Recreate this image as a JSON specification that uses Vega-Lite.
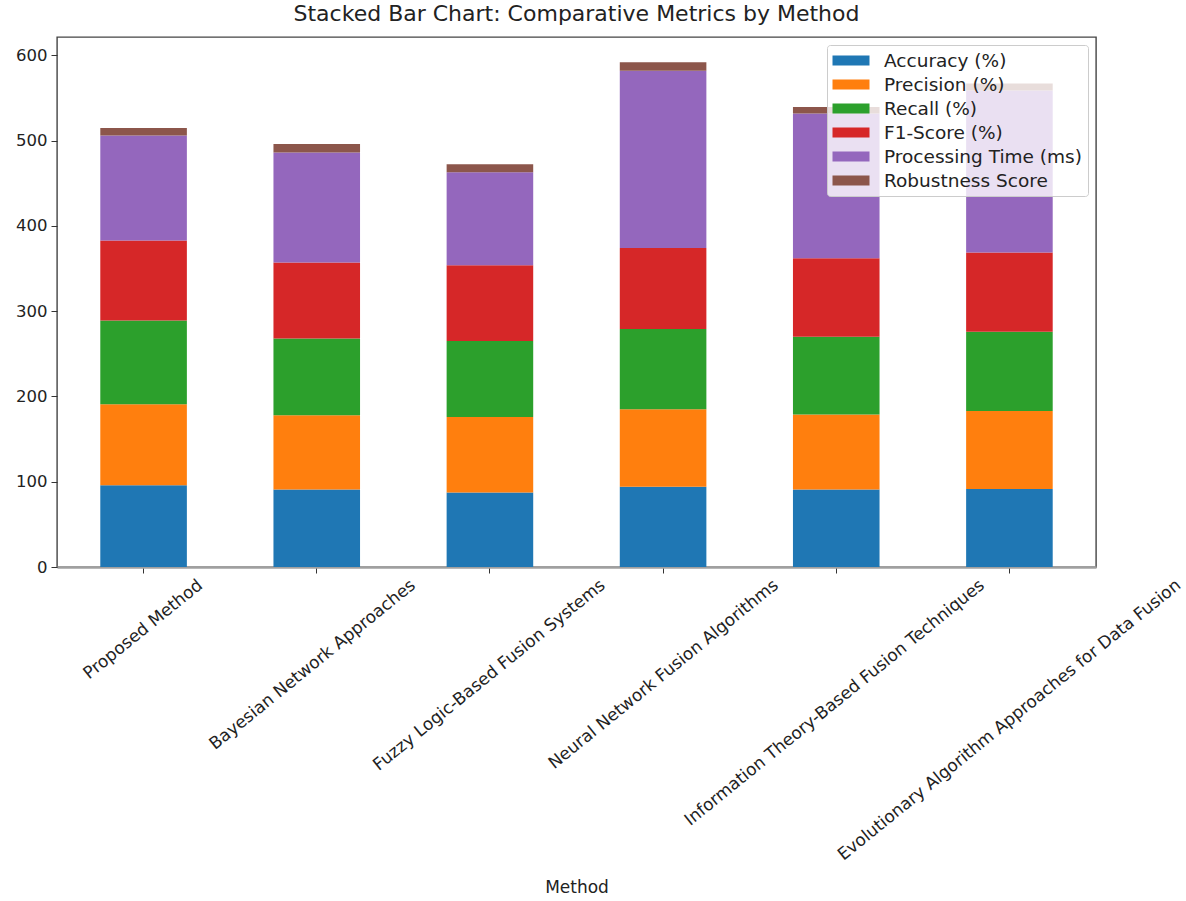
{
  "$schema": "https://vega.github.io/schema/vega-lite/v6.json",
  "autosize": {"type": "none"},
  "width": 1039,
  "height": 530,
  "padding": {"left": 57, "top": 37, "right": 90, "bottom": 334},
  "background": "white",
  "title": {
    "text": "Stacked Bar Chart: Comparative Metrics by Method",
    "fontSize": 22,
    "fontWeight": "normal",
    "font": "DejaVu Sans",
    "color": "#222222",
    "anchor": "middle",
    "offset": 11
  },
  "config": {
    "font": "DejaVu Sans",
    "view": {"stroke": "#444444", "strokeWidth": 1.4},
    "axis": {"grid": false}
  },
  "data": {
    "values": [
      {"method": "Proposed Method", "metric": "Accuracy (%)", "value": 96},
      {"method": "Proposed Method", "metric": "Precision (%)", "value": 95},
      {"method": "Proposed Method", "metric": "Recall (%)", "value": 98},
      {"method": "Proposed Method", "metric": "F1-Score (%)", "value": 94},
      {"method": "Proposed Method", "metric": "Processing Time (ms)", "value": 123},
      {"method": "Proposed Method", "metric": "Robustness Score", "value": 9},
      {"method": "Bayesian Network Approaches", "metric": "Accuracy (%)", "value": 91},
      {"method": "Bayesian Network Approaches", "metric": "Precision (%)", "value": 87},
      {"method": "Bayesian Network Approaches", "metric": "Recall (%)", "value": 90},
      {"method": "Bayesian Network Approaches", "metric": "F1-Score (%)", "value": 89},
      {"method": "Bayesian Network Approaches", "metric": "Processing Time (ms)", "value": 129},
      {"method": "Bayesian Network Approaches", "metric": "Robustness Score", "value": 10},
      {"method": "Fuzzy Logic-Based Fusion Systems", "metric": "Accuracy (%)", "value": 87.5},
      {"method": "Fuzzy Logic-Based Fusion Systems", "metric": "Precision (%)", "value": 88.5},
      {"method": "Fuzzy Logic-Based Fusion Systems", "metric": "Recall (%)", "value": 89},
      {"method": "Fuzzy Logic-Based Fusion Systems", "metric": "F1-Score (%)", "value": 89},
      {"method": "Fuzzy Logic-Based Fusion Systems", "metric": "Processing Time (ms)", "value": 109},
      {"method": "Fuzzy Logic-Based Fusion Systems", "metric": "Robustness Score", "value": 9.5},
      {"method": "Neural Network Fusion Algorithms", "metric": "Accuracy (%)", "value": 94},
      {"method": "Neural Network Fusion Algorithms", "metric": "Precision (%)", "value": 91},
      {"method": "Neural Network Fusion Algorithms", "metric": "Recall (%)", "value": 94},
      {"method": "Neural Network Fusion Algorithms", "metric": "F1-Score (%)", "value": 95},
      {"method": "Neural Network Fusion Algorithms", "metric": "Processing Time (ms)", "value": 208},
      {"method": "Neural Network Fusion Algorithms", "metric": "Robustness Score", "value": 10},
      {"method": "Information Theory-Based Fusion Techniques", "metric": "Accuracy (%)", "value": 91},
      {"method": "Information Theory-Based Fusion Techniques", "metric": "Precision (%)", "value": 88},
      {"method": "Information Theory-Based Fusion Techniques", "metric": "Recall (%)", "value": 91},
      {"method": "Information Theory-Based Fusion Techniques", "metric": "F1-Score (%)", "value": 92},
      {"method": "Information Theory-Based Fusion Techniques", "metric": "Processing Time (ms)", "value": 170},
      {"method": "Information Theory-Based Fusion Techniques", "metric": "Robustness Score", "value": 7.6},
      {"method": "Evolutionary Algorithm Approaches for Data Fusion", "metric": "Accuracy (%)", "value": 91.5},
      {"method": "Evolutionary Algorithm Approaches for Data Fusion", "metric": "Precision (%)", "value": 91.5},
      {"method": "Evolutionary Algorithm Approaches for Data Fusion", "metric": "Recall (%)", "value": 93},
      {"method": "Evolutionary Algorithm Approaches for Data Fusion", "metric": "F1-Score (%)", "value": 93},
      {"method": "Evolutionary Algorithm Approaches for Data Fusion", "metric": "Processing Time (ms)", "value": 190},
      {"method": "Evolutionary Algorithm Approaches for Data Fusion", "metric": "Robustness Score", "value": 8}
    ]
  },
  "transform": [
    {"calculate": "indexof(['Accuracy (%)', 'Precision (%)', 'Recall (%)', 'F1-Score (%)', 'Processing Time (ms)', 'Robustness Score'], datum.metric)", "as": "metric_rank"}
  ],
  "encoding": {
    "x": {
      "field": "method",
      "type": "nominal",
      "sort": null,
      "scale": {"paddingInner": 0.5, "paddingOuter": 0.25},
      "axis": {
        "title": "Method",
        "titleFontSize": 17,
        "titleFontWeight": "normal",
        "titleColor": "#222222",
        "titlePadding": 306,
        "labels": false,
        "tickSize": 6,
        "tickColor": "#333333",
        "domainColor": "#a0a0a0",
        "domainWidth": 2.5
      }
    }
  },
  "layer": [
    {
      "mark": {"type": "bar", "width": {"band": 1}},
      "encoding": {
        "y": {
          "field": "value",
          "type": "quantitative",
          "stack": "zero",
          "scale": {"domain": [0, 621.6], "nice": false},
          "axis": {
            "title": null,
            "values": [0, 100, 200, 300, 400, 500, 600],
            "labelFontSize": 16.5,
            "labelColor": "#222222",
            "labelPadding": 4,
            "tickSize": 6,
            "tickColor": "#333333",
            "domain": false
          }
        },
        "order": {"field": "metric_rank", "type": "quantitative", "sort": "ascending"},
        "color": {
          "field": "metric",
          "type": "nominal",
          "sort": ["Accuracy (%)", "Precision (%)", "Recall (%)", "F1-Score (%)", "Processing Time (ms)", "Robustness Score"],
          "scale": {
            "domain": ["Accuracy (%)", "Precision (%)", "Recall (%)", "F1-Score (%)", "Processing Time (ms)", "Robustness Score"],
            "range": ["#1f77b4", "#ff7f0e", "#2ca02c", "#d62728", "#9467bd", "#8c564b"]
          },
          "legend": {
            "title": null,
            "orient": "top-right",
            "offset": 8,
            "padding": 6,
            "fillColor": "rgba(255,255,255,0.8)",
            "strokeColor": "#cccccc",
            "cornerRadius": 3,
            "labelFontSize": 18.5,
            "labelColor": "#222222",
            "labelLimit": 0,
            "symbolType": "M-2,-0.55H2V0.55H-2Z",
            "symbolSize": 342,
            "symbolStrokeWidth": 0,
            "symbolOpacity": 1,
            "symbolOffset": 8.5,
            "labelOffset": 23.5,
            "rowPadding": 5
          }
        }
      }
    },
    {
      "transform": [{"filter": "datum.metric === 'Accuracy (%)'"}],
      "mark": {
        "type": "text",
        "angle": -39,
        "align": "right",
        "baseline": "top",
        "fontSize": 17,
        "color": "#222222",
        "dx": {"expr": "2.566*length(datum.method)-4.41"},
        "dy": {"expr": "2.077*length(datum.method)+9.29"}
      },
      "encoding": {
        "y": {"datum": 0, "type": "quantitative"},
        "text": {"field": "method", "type": "nominal"}
      }
    }
  ]
}
